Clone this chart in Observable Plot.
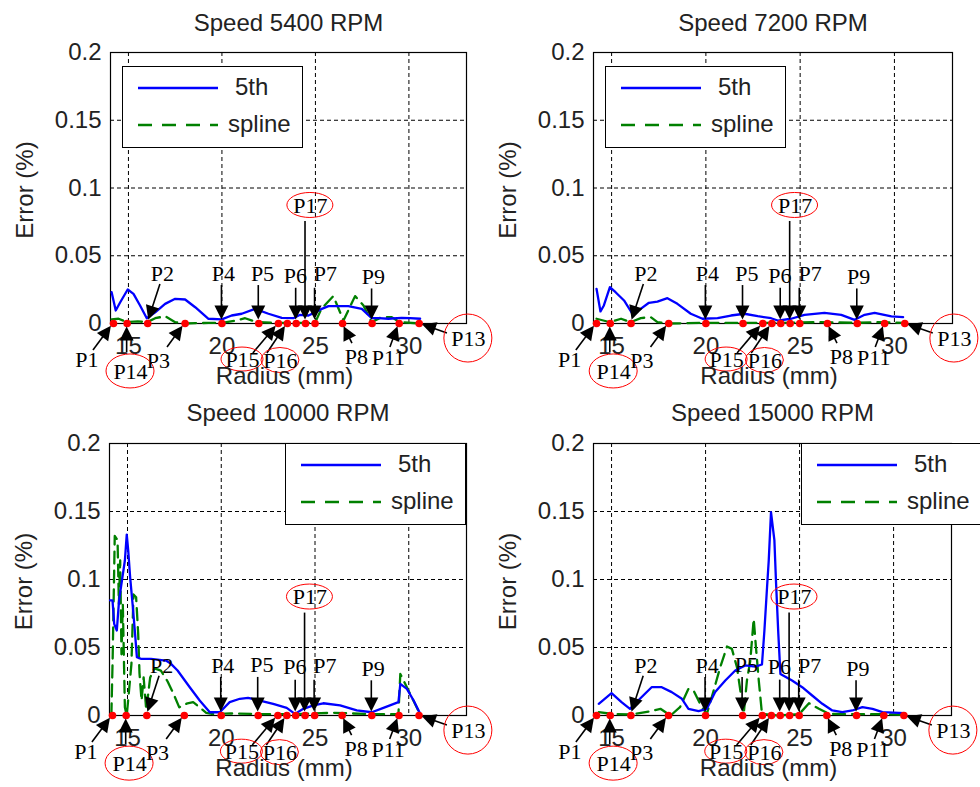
<!DOCTYPE html>
<html><head><meta charset="utf-8">
<script src="https://cdn.jsdelivr.net/npm/d3@7"></script>
<script src="https://cdn.jsdelivr.net/npm/@observablehq/plot@0.6"></script>
<style>
body{margin:0;background:#fff;}
#chart{position:relative;width:980px;height:787px;overflow:hidden;background:#fff;font-family:"Liberation Sans",Arial,sans-serif;}
.panel{position:absolute;}
.legend{position:absolute;height:82px;border:1px solid #000;background:#fff;box-sizing:border-box;}
.legend svg{position:absolute;left:0;top:0;}
.legend span{position:absolute;font-size:24px;line-height:24px;color:#222;white-space:nowrap;}
</style></head><body><div id="chart"></div><script>
// ---------- data ----------
const titles = ["Speed 5400 RPM", "Speed 7200 RPM", "Speed 10000 RPM", "Speed 15000 RPM"];
const seriesNames = ["5th", "spline"];
const xTicks = [15, 20, 25, 30];
const yTicks = [0, 0.05, 0.1, 0.15, 0.2];
const xLabel = "Radius (mm)";
const yLabel = "Error (%)";

const fifth5400 = [[14.1,0.0231],[14.32,0.0096],[14.56,0.0157],[14.96,0.0251],[15.27,0.0219],[15.62,0.0133],[15.98,0.0039],[16.43,0.0083],[16.96,0.0145],[17.5,0.0182],[18.03,0.0177],[18.57,0.012],[19.28,0.0035],[19.99,0.003],[20.52,0.0059],[21.06,0.0072],[21.77,0.0108],[22.49,0.0072],[23.2,0.0042],[23.82,0.0039],[24.18,0.0064],[24.63,0.0059],[25.34,0.0108],[25.7,0.0128],[26.76,0.0128],[27.48,0.0108],[28.01,0.0039],[28.37,0.0039],[28.9,0.0035],[29.61,0.0042],[30.06,0.0039],[30.6,0.0035]];
const spline5400 = [[14.1,0.003],[14.47,0.0035],[14.93,0.001],[15.5,0.0015],[16.0,0.001],[16.43,0.0039],[16.96,0.0054],[17.5,0.001],[18.0,0],[19.28,0.0005],[20,0.0005],[20.7,0.002],[21.24,0.0039],[21.86,0.001],[23.2,0.0005],[24.98,0.0005],[25.32,0.0108],[25.96,0.0202],[26.5,0.0022],[27.12,0.0202],[27.57,0.0133],[28.0,0.001],[28.54,0.0047],[29.08,0.0047],[29.5,0.001],[30.6,0]];

const fifth7200 = [[14.2,0.0256],[14.41,0.0089],[14.59,0.0133],[14.91,0.0268],[15.21,0.0231],[15.66,0.017],[16.1,0.0072],[16.54,0.0108],[16.98,0.0153],[17.43,0.0162],[17.96,0.0187],[18.49,0.0145],[19.2,0.0072],[19.82,0.0035],[20.62,0.0039],[21.33,0.0059],[22.04,0.0072],[22.75,0.0054],[23.46,0.0039],[23.81,0.0022],[24.52,0.0035],[25.23,0.0064],[26.29,0.0079],[27.18,0.0064],[27.89,0.0027],[28.42,0.0064],[28.95,0.0079],[29.84,0.0052],[30.46,0.0047]];
const spline7200 = [[14.2,0.0035],[14.9,0.001],[15.5,0.0035],[16.0,0.001],[16.55,0.004],[17.08,0.0047],[17.43,0.001],[18.0,0],[20,0.0005],[22,0.0005],[24,0.0005],[26,0.001],[28,0.0005],[29,0.001],[30.46,0.0005]];

const fifth10000 = [[14.07,0.0846],[14.2,0.0846],[14.29,0.0674],[14.43,0.0625],[14.55,0.0846],[14.73,0.1017],[14.86,0.114],[14.96,0.133],[15.04,0.121],[15.14,0.1017],[15.27,0.082],[15.39,0.0625],[15.5,0.0429],[15.71,0.0417],[16.25,0.0417],[17.05,0.0404],[17.32,0.038],[17.67,0.0331],[18.32,0.0208],[18.85,0.011],[19.39,0.0024],[19.92,0.0024],[20.45,0.0098],[20.99,0.0123],[21.43,0.013],[22.06,0.011],[22.77,0.0086],[23.49,0.0056],[23.93,0.0012],[24.38,0.0049],[24.91,0.0074],[25.44,0.009],[26.34,0.0074],[27.23,0.0037],[28.03,0.0024],[28.65,0.0056],[29.45,0.0098],[29.55,0.0233],[29.9,0.0196],[30.26,0.011],[30.61,0.0012]];
const spline10000 = [[14.14,0],[14.21,0.043],[14.32,0.132],[14.47,0.129],[14.54,0.082],[14.61,0.114],[14.68,0.045],[14.75,0.082],[14.86,0.006],[14.96,0],[15.1,0.021],[15.21,0.038],[15.32,0.089],[15.46,0.087],[15.57,0.06],[15.64,0.031],[15.75,0.011],[15.86,0.028],[16.0,0.004],[16.21,0.028],[16.44,0.0346],[16.78,0.033],[17.14,0.025],[17.42,0.017],[17.76,0.006],[18.2,0.009],[18.5,0.0098],[18.85,0.006],[19.2,0.002],[19.6,0.001],[20.5,0.0015],[22,0.001],[24,0.001],[25,0.0015],[26,0.002],[27,0.0015],[28,0.001],[29.45,0.001],[29.55,0.0306],[30.6,0.001]];

const fifth15000 = [[14.32,0.0086],[15.0,0.0164],[15.53,0.0098],[15.98,0.0049],[16.51,0.0123],[17.13,0.0208],[17.67,0.0208],[18.2,0.0172],[18.74,0.0123],[19.09,0.0049],[19.63,0.0032],[20.07,0.0049],[20.51,0.0172],[21.05,0.0257],[21.58,0.0331],[22.11,0.0368],[22.65,0.036],[23.0,0.0375],[23.13,0.0625],[23.27,0.0943],[23.36,0.114],[23.48,0.1495],[23.66,0.129],[23.75,0.097],[23.87,0.06],[23.98,0.0306],[24.6,0.0257],[25.14,0.0208],[25.67,0.0147],[26.21,0.0086],[26.74,0.0037],[27.27,0.0025],[27.81,0.0037],[28.34,0.0061],[28.88,0.0049],[29.41,0.0025],[30.57,0.0017]];
const spline15000 = [[14.32,0.0025],[15.0,0.0012],[16.0,0.0007],[17.0,0.003],[17.6,0.0049],[18.14,0],[18.64,0.0061],[19.09,0.0196],[19.36,0.0184],[19.8,0.0061],[20.07,0.0012],[20.43,0.0184],[20.78,0.0355],[21.14,0.0507],[21.4,0.049],[21.67,0.0355],[21.85,0.0184],[22.03,0.0012],[22.2,0.0257],[22.38,0.0404],[22.56,0.071],[22.68,0.0502],[22.83,0.0257],[23.0,0.0012],[23.9,0],[24.98,0.001],[25.5,0.009],[26.03,0.0049],[26.56,0.0012],[28,0.001],[29.5,0.001],[30.57,0.0005]];

// measurement points: label, radius (mm), label position and arrow tail (data units)
const points = [
  {label:"P1",  at:14.2,  tx:12.78, ty:-0.0269, ax:13.13, ay:-0.0199},
  {label:"P14", at:14.93, tx:15.11, ty:-0.0354, ax:14.93, ay:-0.0214},
  {label:"P2",  at:16.03, tx:16.82, ty:0.0362,  ax:16.71, ay:0.0288},
  {label:"P3",  at:18.03, tx:16.6,  ty:-0.0273, ax:17.09, ay:-0.0177},
  {label:"P4",  at:20.0,  tx:20.08, ty:0.0362,  ax:20.0,  ay:0.028},
  {label:"P5",  at:21.97, tx:22.17, ty:0.0369,  ax:21.97, ay:0.028},
  {label:"P6",  at:23.97, tx:23.93, ty:0.0354,  ax:23.97, ay:0.026},
  {label:"P17", at:24.47, tx:24.73, ty:0.0871,  ax:24.47, ay:0.0753},
  {label:"P7",  at:24.98, tx:25.53, ty:0.0362,  ax:24.98, ay:0.026},
  {label:"P9",  at:28.03, tx:28.1,  ty:0.034,   ax:28.03, ay:0.0255},
  {label:"P8",  at:26.45, tx:27.19, ty:-0.0244, ax:26.98, ay:-0.0148},
  {label:"P11", at:29.48, tx:28.9,  ty:-0.0251, ax:29.01, ay:-0.0177},
  {label:"P13", at:30.55, tx:33.18, ty:-0.0111, ax:32.06, ay:-0.0074},
  {label:"P15", at:23.02, tx:21.1,  ty:-0.0266, ax:21.68, ay:-0.0221},
  {label:"P16", at:23.5,  tx:23.13, ty:-0.0273, ax:22.43, ay:-0.0221}
];
const circledLabels = ["P14", "P17", "P13", "P15", "P16"];

// ---------- styles / layout ----------
const BLUE = "#0000ff", GREEN = "#008000", RED = "#ff0000", INK = "#222";
const SANS = "'Liberation Sans', Arial, sans-serif";
const SERIF = "'Liberation Serif', 'Times New Roman', serif";
const ELLIPSE = {P14:[24,17], P17:[23,12.5], P13:[24,24], P15:[21,12], P16:[19,12.5]};
const layout = [
  {left:0,   top:0,   width:490, height:393, mL:110, mR:24, mT:52, mB:70, tdy:-29, lg:[122,66,181]},
  {left:490, top:0,   width:490, height:393, mL:103, mR:28, mT:52, mB:70, tdy:-29, lg:[605,66,181]},
  {left:0,   top:393, width:490, height:394, mL:109, mR:24, mT:50, mB:72, tdy:-30, lg:[285,443,181]},
  {left:490, top:393, width:490, height:394, mL:103, mR:29, mT:50, mB:72, tdy:-30, lg:[801,443,184]}
];
const series = [[fifth5400, spline5400],[fifth7200, spline7200],[fifth10000, spline10000],[fifth15000, spline15000]];

function annotationMark(anns) {
  return (index, scales) => {
    const g = d3.create("svg:g");
    for (const a of anns) {
      const x1 = scales.x(a.ax), y1 = scales.y(a.ay);
      const x2 = scales.x(a.at), y2 = scales.y(0);
      const dx = x2 - x1, dy = y2 - y1, L = Math.hypot(dx, dy);
      const ux = dx / L, uy = dy / L;
      const tipX = x2 - ux * 3.5, tipY = y2 - uy * 3.5;
      const head = 14, half = 7;
      const bx = tipX - ux * head, by = tipY - uy * head;
      g.append("line").attr("x1", x1).attr("y1", y1).attr("x2", bx + ux).attr("y2", by + uy)
        .attr("stroke", "#000").attr("stroke-width", 1.6);
      g.append("path")
        .attr("d", `M${tipX},${tipY}L${bx - uy * half},${by + ux * half}L${bx + uy * half},${by - ux * half}Z`)
        .attr("fill", "#000");
      if (circledLabels.includes(a.label)) {
        const [rx, ry] = ELLIPSE[a.label];
        g.append("ellipse").attr("cx", scales.x(a.tx)).attr("cy", scales.y(a.ty))
          .attr("rx", rx).attr("ry", ry).attr("fill", "none").attr("stroke", RED).attr("stroke-width", 1);
      }
    }
    return g.node();
  };
}

const chart = document.getElementById("chart");
titles.forEach((title, i) => {
  const L = layout[i];
  const [fifth, spline] = series[i];
  const plot = Plot.plot({
    width: L.width, height: L.height,
    marginLeft: L.mL, marginRight: L.mR, marginTop: L.mT, marginBottom: L.mB,
    style: {fontFamily: SANS, fontSize: "24px", color: INK, background: "transparent", overflow: "visible"},
    x: {domain: [14.04, 33.08], axis: null},
    y: {domain: [0, 0.2], axis: null},
    marks: [
      Plot.ruleX(xTicks, {stroke: "#000", strokeWidth: 1, strokeDasharray: "4,3"}),
      Plot.ruleY(yTicks.filter(v => v > 0 && v < 0.2), {stroke: "#000", strokeWidth: 1, strokeDasharray: "4,3"}),
      Plot.frame({stroke: "#000", strokeWidth: 1.2}),
      // tick labels
      Plot.text(xTicks, {x: d => d, frameAnchor: "bottom", dy: 23, text: d => String(d), lineAnchor: "middle", textAnchor: "middle", fontFamily: SANS, fontSize: 24, fill: INK}),
      Plot.text(yTicks, {y: d => d, frameAnchor: "left", dx: -9, text: d => String(d), lineAnchor: "middle", textAnchor: "end", fontFamily: SANS, fontSize: 24, fill: INK}),
      Plot.line(spline, {x: d => d[0], y: d => d[1], stroke: GREEN, strokeWidth: 2.3, strokeDasharray: "12,7"}),
      Plot.line(fifth, {x: d => d[0], y: d => d[1], stroke: BLUE, strokeWidth: 2.3}),
      Plot.dot(points, {x: "at", y: () => 0, r: 3.8, fill: RED}),
      annotationMark(points),
      Plot.text(points, {x: "tx", y: "ty", text: "label", fontFamily: SERIF, fontSize: 22, fill: "#000", lineAnchor: "middle"}),
      Plot.text([title], {text: d => d, frameAnchor: "top", dy: L.tdy, lineAnchor: "middle", textAnchor: "middle", fontFamily: SANS, fontSize: 24, fill: INK}),
      Plot.text([yLabel], {text: d => d, frameAnchor: "left", rotate: -90, dx: -85, dy: 2, textAnchor: "middle", lineAnchor: "middle", fontFamily: SANS, fontSize: 24, fill: INK}),
      Plot.text([xLabel], {text: d => d, frameAnchor: "bottom", dx: -4, dy: 53, textAnchor: "middle", lineAnchor: "middle", fontFamily: SANS, fontSize: 24, fill: INK})
    ]
  });
  const div = document.createElement("div");
  div.className = "panel";
  div.style.left = L.left + "px"; div.style.top = L.top + "px"; div.style.width = L.width + "px";
  div.appendChild(plot);
  chart.appendChild(div);

  // legend
  const [lx, ly, lw] = L.lg;
  const lg = document.createElement("div");
  lg.className = "legend";
  lg.style.left = lx + "px"; lg.style.top = ly + "px"; lg.style.width = lw + "px";
  lg.innerHTML = `<svg width="${lw}" height="82">
    <line x1="15" x2="95" y1="21" y2="21" stroke="${BLUE}" stroke-width="2.5"/>
    <line x1="15" x2="95" y1="58" y2="58" stroke="${GREEN}" stroke-width="2.5" stroke-dasharray="14,10"/>
  </svg>
  <span style="left:112px;top:8px">${seriesNames[0]}</span>
  <span style="left:105px;top:45px">${seriesNames[1]}</span>`;
  chart.appendChild(lg);
});
</script></body></html>
